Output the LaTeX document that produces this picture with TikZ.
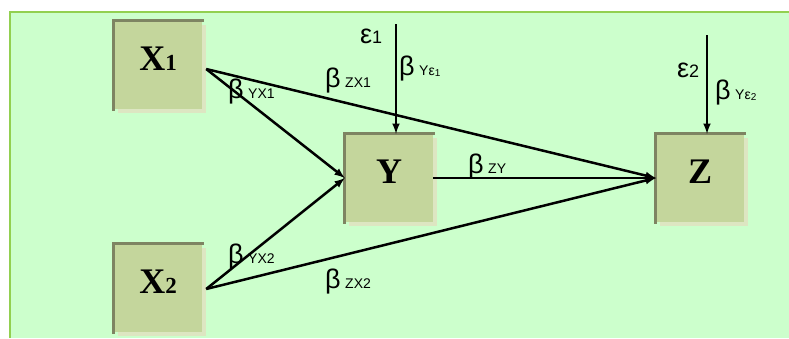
\documentclass[tikz,border=0pt]{standalone}
\usepackage{fontspec}
\setmainfont{Liberation Serif}
\newfontfamily\greeksans{Liberation Sans}
\usetikzlibrary{shadows,calc}

\definecolor{panelgreen}{HTML}{CCFFCC}
\definecolor{panelrim}{HTML}{92D050}
\definecolor{boxfill}{HTML}{C4D69C}
\definecolor{boxdark}{HTML}{7E8462}
\definecolor{boxlight}{HTML}{DDE6C2}

\newcommand{\bcoef}[1]{β\,{\fontsize{14}{14}\selectfont #1}}
\newcommand{\lowsub}[1]{{\fontsize{10}{10}\selectfont\raisebox{-1.5pt}{#1}}}
\newcommand{\epsterm}[1]{ε{\fontsize{18}{18}\selectfont #1}}

\tikzset{
  var/.style={minimum width=88pt, minimum height=88pt, inner sep=0pt,
    text height=24pt, text depth=14pt,
    fill=boxfill, font=\bfseries\fontsize{36}{36}\selectfont,
    drop shadow={shadow xshift=4pt, shadow yshift=-4pt, fill=boxlight, opacity=1}},
  rim/.style={boxdark, line width=3pt},
  link/.style={line width=2.5pt, -latex},
  coef/.style={font=\greeksans\fontsize{27}{27}\selectfont, inner sep=0pt, anchor=base west},
}

\begin{document}
\begin{tikzpicture}[x=1pt, y=-1pt]
\useasboundingbox (0,0) rectangle (789,338);
\fill[panelgreen] (10,12) rectangle (789,338);
\draw[panelrim, line width=2pt] (10,338) |- (789,12);

% variables
\node[var] (X1) at (158,65)  {X\fontsize{23}{23}\selectfont 1};
\node[var] (X2) at (158,288) {X\fontsize{23}{23}\selectfont 2};
\node[var] (Y)  at (389,178) {Y};
\node[var] (Z)  at (700,178) {Z};
\foreach \v in {X1,X2,Y,Z}
  \draw[rim] ([yshift=-1.5pt]\v.south west) |- ([xshift=1.5pt]\v.north east);

% error terms
\coordinate (e1) at (396,24);
\coordinate (e2) at (707,35);
\node[coef] (eps1) at (360,43) {\epsterm{1}};
\node[coef] (eps2) at (677,77) {\epsterm{2}};

% paths
\coordinate (x1out) at ($(X1.east)+(4,4)$);
\coordinate (x2out) at ($(X2.east)+(4,1)$);
\draw[link] (x1out) -- (Y.west);
\draw[link] (x1out) -- (Z.west);
\draw[link] (x2out) -- (Y.west);
\draw[link] (x2out) -- (Z.west);
\draw[link] (Y.east) -- (Z.west);
\draw[link] (e1) -- (e1 |- Y.north);
\draw[link] (e2) -- (e2 |- Z.north);

% coefficients
\node[coef] (bYX1) at (228,98)  {\bcoef{YX1}};
\node[coef] (bZX1) at (325,87)  {\bcoef{ZX1}};
\node[coef] (bYX2) at (228,263) {\bcoef{YX2}};
\node[coef] (bZX2) at (325,288) {\bcoef{ZX2}};
\node[coef] (bZY)  at (468,173) {\bcoef{ZY}};
\node[coef] (bYe1) at (399,75)  {\bcoef{Yε\lowsub{1}}};
\node[coef] (bYe2) at (715,99)  {\bcoef{Yε\lowsub{2}}};
\end{tikzpicture}
\end{document}
